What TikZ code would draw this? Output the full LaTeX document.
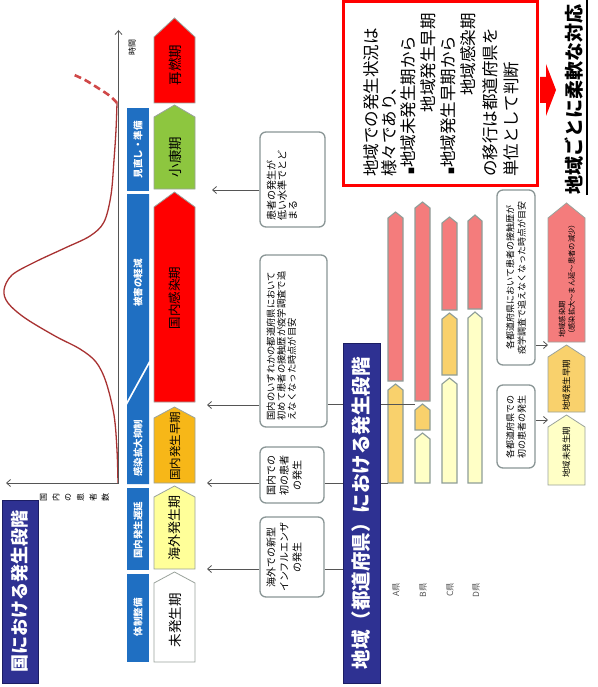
\documentclass[tikz,border=0pt]{standalone}
\usepackage{fontspec}
\setmainfont{Noto Sans CJK JP}
\usetikzlibrary{arrows.meta,calc}
\definecolor{navy}{HTML}{2E3192}
\definecolor{navyd}{HTML}{1B1D63}
\definecolor{blu}{HTML}{1F6FC2}
\definecolor{ykai}{HTML}{FFFF99}
\definecolor{orng}{HTML}{F7B718}
\definecolor{grn}{HTML}{8DC63F}
\definecolor{chevline}{HTML}{9AA39C}
\definecolor{barline}{HTML}{8E9E98}
\definecolor{pinkr}{HTML}{F47C7C}
\definecolor{orgb}{HTML}{F9D16C}
\definecolor{ylb}{HTML}{FFFFC6}
\definecolor{boxgray}{HTML}{8A9696}
\definecolor{conngray}{HTML}{555555}
\definecolor{curvec}{HTML}{A83232}
\definecolor{curved}{HTML}{D04848}
\newcommand{\chevshape}[6]{\draw[draw=chevline, line width=0.8pt, fill=#6] (#1,#3) -- (#1,#4) -- ({(#1+#2)/2},#5) -- (#2,#4) -- (#2,#3) -- cycle;}
\newcommand{\barseg}[5]{\draw[draw=barline, line width=1.1pt, fill=#5] (#1,#3) -- (#1,{#4+6}) -- ({(#1+#2)/2},#4) -- (#2,{#4+6}) -- (#2,#3) -- cycle;}
\newcommand{\fsz}[2]{\fontsize{#1}{#2}\selectfont}
\begin{document}
\begin{tikzpicture}[x=1pt,y=-1pt,
  rt/.style={rotate=90, inner sep=0pt},
  lbox/.style={draw=boxgray, line width=1.3pt, rounded corners=6pt, fill=white, inner sep=0pt},
  conn/.style={draw=conngray, line width=0.8pt},
  tip/.style={-{Straight Barb[length=4pt,width=7pt]}},
  bluelab/.style={rt, text=white, font=\bfseries\fsz{9.5}{10}},
  chevlab/.style={rt, text=black}]
\useasboundingbox (0,0) rectangle (597,687);
\clip (0,0) rectangle (597,687);
\fill[white] (0,0) rectangle (597,687);

% epidemic curve
\draw[curvec, line width=1.3pt] plot[smooth, tension=0.55] coordinates {(118,483) (117,450) (114,415) (106,382) (96,362) (80,349) (55,336) (25,318) (8,303) (4,290) (12,275) (35,262) (65,248) (90,236) (104,222) (111,195) (114,160) (116,130) (117,103)};
\draw[curved, line width=2.6pt, dash pattern=on 7pt off 4pt] plot[smooth, tension=0.6] coordinates {(117,103) (110,96) (98,88) (85,80) (72,74)};

% axes
\coordinate (origin) at (118.5,483);
\coordinate (ttop) at (118.5,30);
\coordinate (ptop) at (6,483);
\draw[conn, tip] (origin) -- (ttop);
\draw[conn, tip] (origin) -- (ptop);
\node[rt, font=\fsz{8}{8}] (timelab) at (132,48) {時間};
\foreach \c [count=\i] in {国,内,の,患,者,数}
  \node[rt, font=\fsz{8}{8}] (ylab\i) at ({31+\i*12.4},497) {\c};

% title 1
\node[rt, fill=navy, draw=navyd, line width=1pt, minimum width=183pt, minimum height=36pt, text=white, font=\bfseries\fsz{18}{18}] (t1) at (20,591.5) {国における発生段階};

% blue phase bars
\fill[blu] (127,108) rectangle (149,191);
\fill[blu] (127,194) -- (149,194) -- (149,361) -- (127,401) -- cycle;
\fill[blu] (127,405) -- (149,365) -- (149,484) -- (127,484) -- cycle;
\fill[blu] (127,488) rectangle (149,570);
\fill[blu] (127,574) rectangle (149,662);
\node[bluelab] (l1) at (138,150) {見直し・準備};
\node[bluelab] (l2) at (138,283) {被害の軽減};
\node[bluelab] (l3) at (138,448) {感染拡大抑制};
\node[bluelab] (l4) at (138,530) {国内発生遅延};
\node[bluelab] (l5) at (138,617) {体制整備};

% phase chevrons
\chevshape{154}{195}{662}{583}{572}{white}
\chevshape{154}{195}{569}{497}{486}{ykai}
\chevshape{154}{195}{483}{418}{407}{orng}
\chevshape{154}{195}{402}{207}{192}{red}
\chevshape{154}{195}{189}{117}{105}{grn}
\chevshape{154}{195}{103}{37}{18}{red}
\node[chevlab, font=\fsz{13.5}{14}] (p1) at (175,620) {未発生期};
\node[chevlab, font=\fsz{13}{14}] (p2) at (175,528) {海外発生期};
\node[chevlab, font=\fsz{11.5}{12}] (p3) at (175,446) {国内発生早期};
\node[chevlab, font=\fsz{12.5}{13}] (p4) at (175,298) {国内感染期};
\node[chevlab, font=\fsz{13.5}{14}] (p5) at (175,157) {小康期};
\node[chevlab, font=\fsz{13.5}{14}] (p6) at (175,65) {再燃期};

% arrow targets
\coordinate (tA) at (207,569);
\coordinate (tB) at (207,483);
\coordinate (tC) at (207,405);
\coordinate (tD) at (212,190);

% explanatory boxes (national)
\node[lbox, minimum width=64pt, minimum height=80pt] (bA) at (292,557) {};
\node[rt, anchor=north, align=center, font=\fsz{10}{13}] (bAt) at ($(bA.west)+(7,0)$) {海外での新型\\インフルエンザ\\の発生};
\node[lbox, minimum width=64pt, minimum height=56pt] (bB) at (292,475) {};
\node[rt, anchor=north, align=center, font=\fsz{10}{13}] (bBt) at ($(bB.west)+(7,0)$) {国内での\\初の患者\\の発生};
\node[lbox, minimum width=67pt, minimum height=172pt] (bC) at (293.5,341) {};
\node[rt, anchor=north west, align=left, font=\fsz{9.3}{10.5}] (bCt) at ($(bC.south west)+(7,-7)$) {国内のいずれかの都道府県において\\初めて患者の接触歴が疫学調査で追\\えなくなった時点が目安};
\node[lbox, minimum width=65pt, minimum height=95pt] (bD) at (292.5,179.5) {};
\node[rt, anchor=north west, align=left, font=\fsz{10}{10.8}] (bDt) at ($(bD.south west)+(7,-7)$) {患者の発生が\\低い水準でとど\\まる};

\draw[conn, tip] (bA.west |- tA) -- (tA);
\draw[conn, tip] (bB.west |- tB) -- (tB);
\draw[conn, tip] (bC.west |- tC) -- (tC);
\draw[conn, tip] (bD.west |- tD) -- (tD);

% regional bars
\barseg{388}{403}{483}{384}{orgb}
\barseg{388}{403}{381}{212}{pinkr}
\barseg{415}{430}{483}{433}{ylb}
\barseg{415}{430}{430}{404}{orgb}
\barseg{415}{430}{401}{202}{pinkr}
\barseg{442}{457}{483}{378}{ylb}
\barseg{442}{457}{375}{313}{orgb}
\barseg{442}{457}{310}{217}{pinkr}
\barseg{468}{482}{483}{312}{ylb}
\barseg{468}{482}{309}{215}{pinkr}
\coordinate (barA) at (388,483);
\coordinate (barB) at (415,404);
\coordinate (ttl) at (343,569);
\draw[conn] (bA.east |- ttl) -- (ttl);
\draw[conn] (bB.east |- barA) -- (barA);
\draw[conn] (bC.east |- barB) -- (barB);
\node[rt, text=conngray, font=\fsz{8.5}{9}] (pa) at (396,590) {A県};
\node[rt, text=conngray, font=\fsz{8.5}{9}] (pb) at (423,590) {B県};
\node[rt, text=conngray, font=\fsz{8.5}{9}] (pc) at (450,590) {C県};
\node[rt, text=conngray, font=\fsz{8.5}{9}] (pd) at (476,590) {D県};

% title 2
\node[rt, fill=navy, draw=navyd, line width=1pt, minimum width=340pt, minimum height=37pt, text=white, font=\bfseries\fsz{19.5}{20}] (t2) at (361.5,513) {地域（都道府県）における発生段階};

% regional chevrons
\chevshape{548}{585}{342}{218}{203}{pinkr}
\chevshape{548}{585}{412}{357}{345}{orgb}
\chevshape{548}{585}{485}{427}{415}{ylb}
\node[rt, anchor=west, align=left, font=\fsz{7.3}{9.5}] (r1) at (567,338) {地域感染期\\（感染拡大～まん延～患者の減少）};
\node[chevlab, font=\fsz{8.5}{9}] (r2) at (566.5,385) {地域発生早期};
\node[chevlab, font=\fsz{8.5}{9}] (r3) at (566.5,452) {地域未発生期};

% regional boxes
\node[lbox, minimum width=38pt, minimum height=175pt] (rb1) at (516,277.5) {};
\node[rt, align=center, font=\fsz{9}{11.5}] (rb1t) at (rb1.center) {各都道府県において患者の接触歴が\\疫学調査で追えなくなった時点が目安};
\node[lbox, minimum width=38pt, minimum height=83pt] (rb2) at (516,426.5) {};
\node[rt, align=center, font=\fsz{9}{11.5}] (rb2t) at (rb2.center) {各都道府県での\\初の患者の発生};
\coordinate (rt1) at (548,345);
\coordinate (rt2) at (548,420);
\draw[conn, tip] (rb1.east |- rt1) -- (rt1);
\draw[conn, tip] (rb2.east |- rt2) -- (rt2);

% red box
\draw[red, line width=3pt] (343,1.5) rectangle (537,185);
\node[rt, anchor=west, font=\fsz{16.5}{17}] (m1) at (371,177) {地域での発生状況は};
\node[rt, anchor=west, font=\fsz{16.5}{17}] (m2) at (389,177) {様々であり、};
\node[rt, anchor=west, font=\fsz{16.5}{17}] (m3) at (408,175) {{\fsz{7}{7}■}地域未発生期から};
\node[rt, anchor=east, font=\fsz{16.5}{17}] (m4) at (428,13) {地域発生早期};
\node[rt, anchor=west, font=\fsz{16.5}{17}] (m5) at (448,175) {{\fsz{7}{7}■}地域発生早期から};
\node[rt, anchor=east, font=\fsz{16.5}{17}] (m6) at (468,13) {地域感染期};
\node[rt, anchor=west, font=\fsz{16.5}{17}] (m7) at (490,177) {の移行は都道府県を};
\node[rt, anchor=west, font=\fsz{16.5}{17}] (m8) at (511,177) {単位として判断};

% red block arrow
\fill[red] (540,77) -- (546,77) -- (546,64) -- (556,90) -- (546,116) -- (546,103) -- (540,103) -- cycle;

% conclusion
\node[rt, anchor=west, font=\bfseries\fsz{19}{19}] (big) at (574.5,195) {地域ごとに柔軟な対応};
\coordinate (ul1) at (587,195);
\coordinate (ul2) at (587,0);
\draw[black, line width=1.5pt] (ul1) -- (ul2);
\end{tikzpicture}
\end{document}
